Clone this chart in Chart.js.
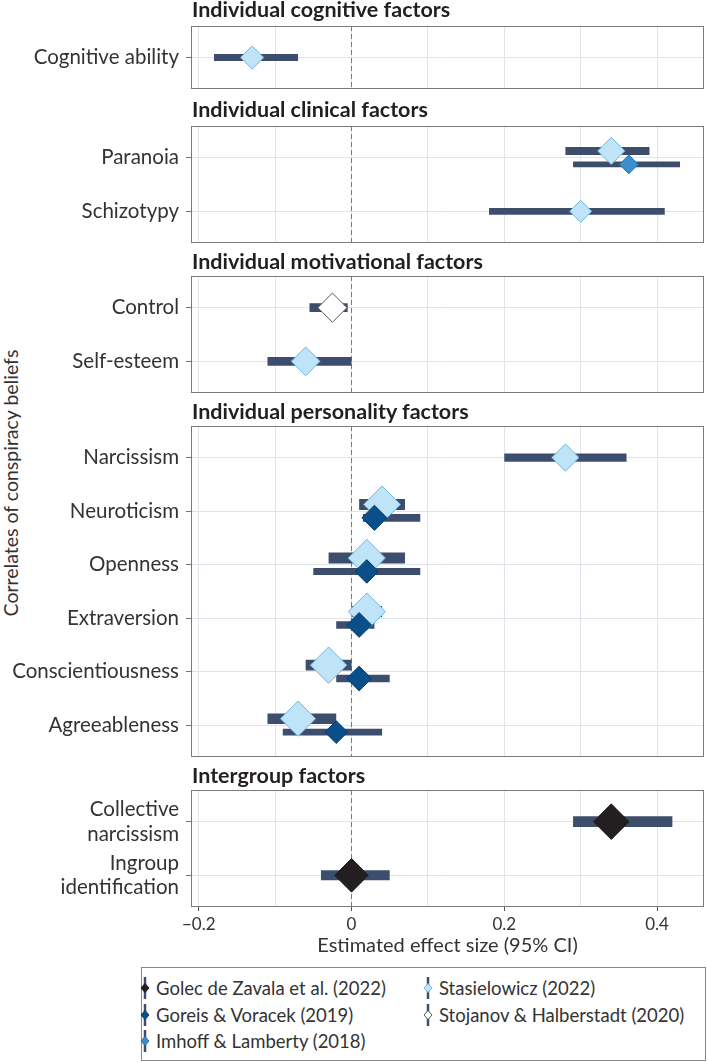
<!DOCTYPE html>
<html>
<head>
<meta charset="utf-8">
<script src="https://cdn.jsdelivr.net/npm/chart.js@4/dist/chart.umd.min.js"></script>
<style>
html,body{margin:0;padding:0;background:#fff;}
body{width:708px;height:1062px;position:relative;overflow:hidden;font-family:Lato,"Noto Sans",sans-serif;}
.ptitle{position:absolute;left:192px;font-weight:bold;font-size:21.5px;line-height:21px;color:#231f20;white-space:nowrap;}
canvas{position:absolute;left:0;}
#ytitle{position:absolute;left:11px;top:483px;transform:translate(-50%,-50%) rotate(-90deg);font-size:19.5px;line-height:20px;color:#333;white-space:nowrap;}
#legend{position:absolute;left:141px;top:967px;width:565px;height:94px;border:1px solid #888;box-sizing:border-box;}
.litem{position:absolute;height:24px;display:flex;align-items:center;font-size:18.5px;color:#333;white-space:nowrap;}
.litem svg{margin-right:5px;}
</style>
</head>
<body>
<div id="ytitle">Correlates of conspiracy beliefs</div>
<div id="legend"></div>
<script>
// ---------------- data ----------------
const studies = ['Golec de Zavala et al. (2022)', 'Goreis & Voracek (2019)', 'Imhoff & Lamberty (2018)', 'Stasielowicz (2022)', 'Stojanov & Halberstadt (2020)'];
const panelTitles = ['Individual cognitive factors', 'Individual clinical factors', 'Individual motivational factors', 'Individual personality factors', 'Intergroup factors'];
const panelCategories = [
  ['Cognitive ability'],
  ['Paranoia', 'Schizotypy'],
  ['Control', 'Self-esteem'],
  ['Narcissism', 'Neuroticism', 'Openness', 'Extraversion', 'Conscientiousness', 'Agreeableness'],
  ['Collective\nnarcissism', 'Ingroup\nidentification']
];
const estCategory = ['Cognitive ability', 'Paranoia', 'Paranoia', 'Schizotypy', 'Control', 'Self-esteem',
  'Narcissism', 'Neuroticism', 'Neuroticism', 'Openness', 'Openness', 'Extraversion', 'Extraversion',
  'Conscientiousness', 'Conscientiousness', 'Agreeableness', 'Agreeableness',
  'Collective\nnarcissism', 'Ingroup\nidentification'];
const estStudy = ['Stasielowicz (2022)', 'Stasielowicz (2022)', 'Imhoff & Lamberty (2018)', 'Stasielowicz (2022)',
  'Stojanov & Halberstadt (2020)', 'Stasielowicz (2022)', 'Stasielowicz (2022)',
  'Stasielowicz (2022)', 'Goreis & Voracek (2019)', 'Stasielowicz (2022)', 'Goreis & Voracek (2019)',
  'Stasielowicz (2022)', 'Goreis & Voracek (2019)', 'Stasielowicz (2022)', 'Goreis & Voracek (2019)',
  'Stasielowicz (2022)', 'Goreis & Voracek (2019)', 'Golec de Zavala et al. (2022)', 'Golec de Zavala et al. (2022)'];
const estValue = [-0.13, 0.34, 0.363, 0.30, -0.025, -0.06, 0.28, 0.04, 0.03, 0.02, 0.02, 0.02, 0.01, -0.03, 0.01, -0.07, -0.02, 0.34, 0.0];
const estLower = [-0.18, 0.28, 0.29, 0.18, -0.055, -0.11, 0.20, 0.01, 0.015, -0.03, -0.05, 0.0, -0.02, -0.06, -0.02, -0.11, -0.09, 0.29, -0.04];
const estUpper = [-0.07, 0.39, 0.43, 0.41, -0.005, 0.0, 0.36, 0.07, 0.09, 0.07, 0.09, 0.04, 0.03, 0.0, 0.05, -0.02, 0.04, 0.42, 0.05];
const estWeight = [0.58, 0.68, 0.47, 0.55, 0.73, 0.72, 0.68, 0.92, 0.63, 0.93, 0.59, 0.93, 0.62, 0.91, 0.62, 0.88, 0.57, 0.89, 0.84];
const xGridValues = [-0.2, -0.1, 0, 0.1, 0.2, 0.3, 0.4];
const xTickValues = [-0.2, 0, 0.2, 0.4];
const xTickLabels = ['\u22120.2', '0', '0.2', '0.4'];
const xAxisTitle = 'Estimated effect size (95% CI)';

// ---------------- styles / layout ----------------
const CI_COLOR = '#3c4e6c';
const studyFill = {'Golec de Zavala et al. (2022)': '#231f20', 'Goreis & Voracek (2019)': '#0b4f8a', 'Imhoff & Lamberty (2018)': '#3b8fd0', 'Stasielowicz (2022)': '#bfe4f8', 'Stojanov & Halberstadt (2020)': '#ffffff'};
const studyBorder = {'Golec de Zavala et al. (2022)': '#231f20', 'Goreis & Voracek (2019)': '#0a3d6b', 'Imhoff & Lamberty (2018)': '#2a6fa8', 'Stasielowicz (2022)': '#6db4e3', 'Stojanov & Halberstadt (2020)': '#555555'};
const boxTops = [26, 126, 276, 426, 789.6];
const titleTops = [-1.5, 98.5, 250.5, 400.5, 765];
const ROW_PX = 53.6, Y_PAD = 0.59, DODGE = 0.125, PADT = 6;
const X_MIN = -0.2101, X_MAX = 0.4614;
const FONT = 'Lato';

const panelBox = {
  id: 'panelBox',
  afterDraw(chart) {
    const a = chart.chartArea, ctx = chart.ctx;
    ctx.save();
    ctx.strokeStyle = '#7a7a7a';
    ctx.lineWidth = 1;
    ctx.strokeRect(Math.round(a.left) + 0.5, Math.round(a.top) + 0.5, Math.round(a.right - a.left) - 1, Math.round(a.bottom - a.top) - 1);
    ctx.restore();
  }
};

function xLabel(v) {
  const k = xTickValues.findIndex(t => Math.abs(t - v) < 1e-9);
  return k >= 0 ? xTickLabels[k] : '';
}

function buildPanel(p) {
  const cats = panelCategories[p];
  const n = cats.length;
  const isLast = p === panelCategories.length - 1;
  const boxH = (n - 1 + 2 * Y_PAD) * ROW_PX;
  const axisH = isLast ? 54 : 0;
  const canvas = document.createElement('canvas');
  canvas.width = 708;
  canvas.height = Math.round(PADT + boxH + axisH + 2);
  canvas.style.top = (boxTops[p] - PADT) + 'px';
  document.body.appendChild(canvas);

  const t = document.createElement('div');
  t.className = 'ptitle';
  t.style.top = titleTops[p] + 'px';
  t.textContent = panelTitles[p];
  document.body.appendChild(t);

  const idxs = estCategory.map((c, i) => i).filter(i => cats.includes(estCategory[i]));
  const counts = {};
  idxs.forEach(i => counts[estCategory[i]] = (counts[estCategory[i]] || 0) + 1);
  const seen = {};
  const datasets = [{
    data: [{x: 0, y: -Y_PAD}, {x: 0, y: n - 1 + Y_PAD}], showLine: true, borderColor: '#7a7a7a', borderWidth: 1,
    borderDash: [5, 3], pointRadius: 0, order: 3
  }];
  const pts = {};
  idxs.forEach(i => {
    const c = estCategory[i];
    const k = seen[c] = (seen[c] || 0) + 1;
    const row = cats.indexOf(c);
    const y = row + (k - 1 - (counts[c] - 1) / 2) * 2 * DODGE;
    datasets.push({
      data: [{x: estLower[i], y}, {x: estUpper[i], y}], showLine: true, borderColor: CI_COLOR,
      borderWidth: 12 * estWeight[i], borderCapStyle: 'butt', pointRadius: 0, order: 2
    });
    (pts[estStudy[i]] = pts[estStudy[i]] || []).push({x: estValue[i], y, r: 20 * estWeight[i]});
  });
  Object.keys(pts).forEach(s => {
    datasets.push({
      data: pts[s].map(q => ({x: q.x, y: q.y})), showLine: false, pointStyle: 'rectRot',
      pointRadius: pts[s].map(q => q.r), pointBackgroundColor: studyFill[s], pointBorderColor: studyBorder[s],
      pointBorderWidth: 1, order: s === 'Stasielowicz (2022)' ? 1 : 0
    });
  });

  new Chart(canvas, {
    type: 'scatter',
    data: {datasets},
    plugins: [panelBox],
    options: {
      responsive: false, animation: false, events: [], devicePixelRatio: 1,
      layout: {autoPadding: false, padding: {top: PADT, right: 4, bottom: 2, left: 0}},
      plugins: {legend: {display: false}, tooltip: {enabled: false}},
      scales: {
        x: {
          type: 'linear', min: X_MIN, max: X_MAX,
          afterBuildTicks: s => { s.ticks = xGridValues.map(v => ({value: v})); },
          afterFit: s => { s.height = axisH; s.paddingLeft = 0; s.paddingRight = 0; s.paddingTop = 0; s.paddingBottom = 0; },
          ticks: {display: isLast, autoSkip: false, maxRotation: 0, padding: 3, color: '#333', font: {family: FONT, size: 17}, callback: v => xLabel(v)},
          grid: {color: '#e0e4ed', lineWidth: 1, drawTicks: isLast, tickLength: 4, tickColor: ctx => (ctx.tick && xLabel(ctx.tick.value)) ? '#555' : 'rgba(0,0,0,0)'},
          border: {display: false},
          title: {display: isLast, text: xAxisTitle, color: '#333', font: {family: FONT, size: 20}, padding: {top: 0, bottom: 3}}
        },
        y: {
          type: 'linear', reverse: true, min: -Y_PAD, max: n - 1 + Y_PAD,
          afterBuildTicks: s => { s.ticks = cats.map((c, i) => ({value: i})); },
          afterFit: s => { s.width = 191; s.paddingTop = 0; s.paddingBottom = 0; s.paddingLeft = 0; s.paddingRight = 0; },
          ticks: {autoSkip: false, padding: 7, color: '#333', font: {family: FONT, size: 20.5, lineHeight: 1.2}, callback: v => cats[Math.round(v)].split('\n')},
          grid: {color: '#e0e4ed', lineWidth: 1, drawTicks: true, tickLength: 5, tickColor: '#777'},
          border: {display: false}
        }
      }
    }
  });
}

panelCategories.forEach((c, p) => buildPanel(p));

// legend
const legendCols = [[0, 1, 2], [3, 4]];
const legendEl = document.getElementById('legend');
legendCols.forEach((col, ci) => {
  col.forEach((si, ri) => {
    const s = studies[si];
    const d = document.createElement('div');
    d.className = 'litem';
    d.style.left = (ci === 0 ? -3 : 280) + 'px';
    d.style.top = (20 + ri * 26.7 - 12) + 'px';
    d.innerHTML = '<svg width="12" height="24" viewBox="0 0 12 24"><line x1="6" y1="1" x2="6" y2="23" stroke="' + CI_COLOR + '" stroke-width="2.5"/>' +
      '<path d="M6 7.5 L10 12 L6 16.5 L2 12 Z" fill="' + studyFill[s] + '" stroke="' + studyBorder[s] + '" stroke-width="1"/></svg>';
    const sp = document.createElement('span');
    sp.textContent = s;
    d.appendChild(sp);
    legendEl.appendChild(d);
  });
});
</script>
</body>
</html>
